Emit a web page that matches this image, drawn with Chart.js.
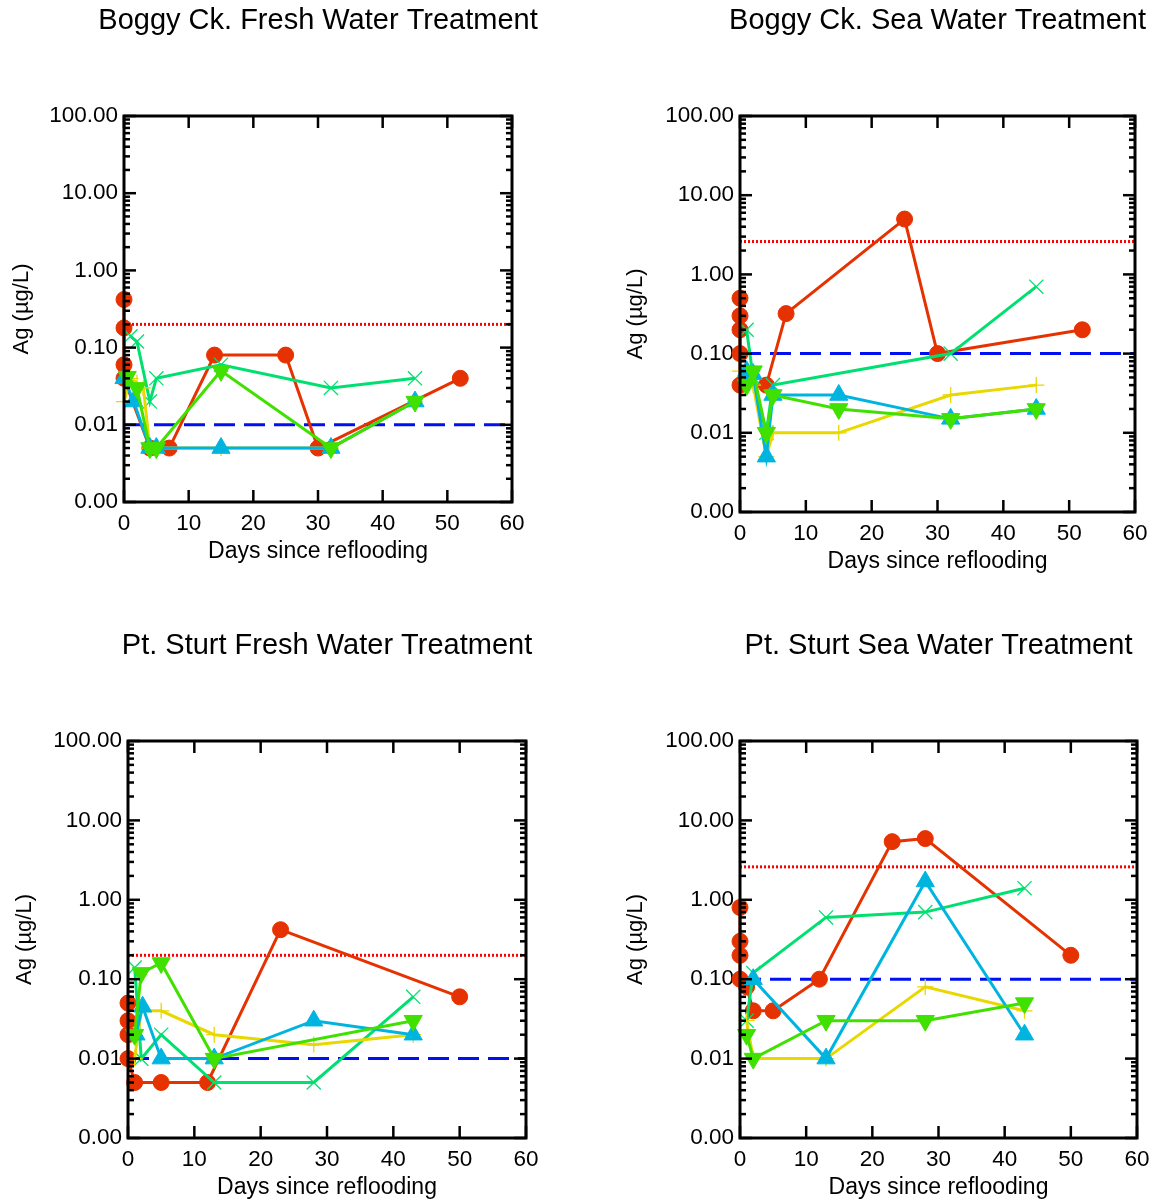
<!DOCTYPE html>
<html>
<head>
<meta charset="utf-8">
<script src="https://cdn.jsdelivr.net/npm/chart.js@4.4.1/dist/chart.umd.min.js"></script>
<style>
    html, body { margin: 0; padding: 0; background: #fff; overflow: hidden; }
    #page { position: relative; width: 1160px; height: 1200px; overflow: hidden; }
    canvas { position: absolute; }
</style>
</head>
<body>
<div id="page">
    <canvas id="bc-fresh"></canvas>
    <canvas id="bc-sea"></canvas>
    <canvas id="ps-fresh"></canvas>
    <canvas id="ps-sea"></canvas>
</div>
<script>
// Axis ticks
const yTickValues = [0.001, 0.01, 0.1, 1, 10, 100]
const xTickValues = [0, 10, 20, 30, 40, 50, 60]

// Boggy Ck. - fresh water
const bcFreshRedDays = [0, 0, 0, 0, 4, 7, 14, 25, 30, 52]
const bcFreshRedAg = [0.42, 0.18, 0.06, 0.04, 0.005, 0.005, 0.08, 0.08, 0.005, 0.04]
const bcFreshCrossDays = [1, 2, 4, 5, 15, 32, 45]
const bcFreshCrossAg = [0.14, 0.12, 0.02, 0.04, 0.06, 0.03, 0.04]
const bcFreshPlusDays = [0, 1, 2, 3, 4, 5, 15, 32, 45]
const bcFreshPlusAg = [0.02, 0.04, 0.035, 0.03, 0.005, 0.005, 0.005, 0.005, 0.02]
const bcFreshUpDays = [0, 1.5, 4, 5, 15, 32, 45]
const bcFreshUpAg = [0.04, 0.02, 0.005, 0.005, 0.005, 0.005, 0.02]
const bcFreshDownDays = [0.5, 2, 4, 5, 15, 32, 45]
const bcFreshDownAg = [0.042, 0.03, 0.005, 0.005, 0.05, 0.005, 0.02]
const bcFreshLimits = [0.2, 0.01]

// Boggy Ck. - sea water
const bcSeaRedDays = [0, 0, 0, 0, 0, 4, 7, 25, 30, 52]
const bcSeaRedAg = [0.5, 0.3, 0.2, 0.1, 0.04, 0.04, 0.32, 5, 0.1, 0.2]
const bcSeaCrossDays = [1, 2, 4, 5, 32, 45]
const bcSeaCrossAg = [0.2, 0.05, 0.01, 0.04, 0.1, 0.7]
const bcSeaPlusDays = [0, 1, 2, 4, 5, 15, 32, 45]
const bcSeaPlusAg = [0.06, 0.04, 0.04, 0.005, 0.01, 0.01, 0.03, 0.04]
const bcSeaUpDays = [1, 2, 4, 5, 15, 32, 45]
const bcSeaUpAg = [0.06, 0.055, 0.005, 0.03, 0.03, 0.015, 0.02]
const bcSeaDownDays = [1, 2, 4, 5, 15, 32, 45]
const bcSeaDownAg = [0.04, 0.06, 0.01, 0.03, 0.02, 0.015, 0.02]
const bcSeaLimits = [2.6, 0.1]

// Pt. Sturt - fresh water
const psFreshRedDays = [0, 0, 0, 0, 1, 5, 12, 23, 50]
const psFreshRedAg = [0.05, 0.03, 0.02, 0.01, 0.005, 0.005, 0.005, 0.42, 0.06]
const psFreshCrossDays = [1, 2, 5, 13, 28, 43]
const psFreshCrossAg = [0.14, 0.01, 0.02, 0.005, 0.005, 0.06]
const psFreshPlusDays = [1, 2, 5, 13, 28, 43]
const psFreshPlusAg = [0.01, 0.04, 0.04, 0.02, 0.015, 0.02]
const psFreshUpDays = [1.2, 2.2, 5, 13, 28, 43]
const psFreshUpAg = [0.02, 0.045, 0.01, 0.01, 0.03, 0.02]
const psFreshDownDays = [1, 2, 5, 13, 43]
const psFreshDownAg = [0.02, 0.12, 0.16, 0.01, 0.03]
const psFreshLimits = [0.2, 0.01]

// Pt. Sturt - sea water
const psSeaRedDays = [0, 0, 0, 0, 1, 2, 5, 12, 23, 28, 50]
const psSeaRedAg = [0.8, 0.3, 0.2, 0.1, 0.08, 0.04, 0.04, 0.1, 5.4, 5.9, 0.2]
const psSeaCrossDays = [1, 2, 13, 28, 43]
const psSeaCrossAg = [0.03, 0.12, 0.6, 0.7, 1.4]
const psSeaPlusDays = [1, 2, 13, 28, 43]
const psSeaPlusAg = [0.03, 0.01, 0.01, 0.08, 0.04]
const psSeaUpDays = [2, 13, 28, 43]
const psSeaUpAg = [0.1, 0.01, 1.7, 0.02]
const psSeaDownDays = [1, 2, 13, 28, 43]
const psSeaDownAg = [0.02, 0.01, 0.03, 0.03, 0.05]
const psSeaLimits = [2.6, 0.1]

const FONT = "'Liberation Sans', Arial, Helvetica, sans-serif"
const RED = '#e63200'
const SPRING = '#00e070'
const YELLOW = '#e8d800'
const CYAN = '#00b4e0'
const GREEN = '#40e000'

const zip = (days, ag) => days.map((d, i) => ({ x: d, y: ag[i] }))

// box with inward ticks on all four sides
const framePlugin = {
    id: 'frame',
    afterDatasetsDraw(chart) {
        const { ctx, chartArea: a, scales: { x, y } } = chart
        const tick = (x1, y1, x2, y2) => {
            ctx.beginPath()
            ctx.moveTo(x1, y1)
            ctx.lineTo(x2, y2)
            ctx.stroke()
        }

        ctx.save()
        ctx.strokeStyle = '#000'
        ctx.lineWidth = 2.5

        xTickValues.forEach(d => {
            const px = x.getPixelForValue(d)
            tick(px, a.bottom, px, a.bottom - 12)
            tick(px, a.top, px, a.top + 12)
        })

        yTickValues.forEach((v, i) => {
            const py = y.getPixelForValue(v)
            tick(a.left, py, a.left + 12, py)
            tick(a.right, py, a.right - 12, py)
            if (i === yTickValues.length - 1) return
            for (let m = 2; m < 10; m++) {
                const pm = y.getPixelForValue(v * m)
                tick(a.left, pm, a.left + 6, pm)
                tick(a.right, pm, a.right - 6, pm)
            }
        })

        ctx.lineWidth = 3
        ctx.strokeRect(a.left, a.top, a.right - a.left, a.bottom - a.top)
        ctx.restore()
    }
}

function series(color, style, points, extra) {
    return Object.assign({
        data: points,
        borderColor: color,
        backgroundColor: color,
        borderWidth: 3,
        pointStyle: style,
        pointRadius: 8,
        pointBackgroundColor: color,
        pointBorderColor: color,
        pointBorderWidth: 1,
        clip: false
    }, extra || {})
}

function limitLine(value, color, dash, width) {
    return {
        data: [{ x: 0, y: value }, { x: 60, y: value }],
        borderColor: color,
        borderWidth: width,
        borderDash: dash,
        pointRadius: 0,
        clip: false
    }
}

function makePanel(id, title, box, sets, limits) {
    const canvas = document.getElementById(id)
    // canvas is symmetric around the plot so the title centres over it
    const yAxisWidth = box.plot.l - box.left
    const width = box.plot.r - box.left + yAxisWidth
    const height = box.plot.b - box.top + 70
    canvas.width = width
    canvas.height = height
    canvas.style.left = box.left + 'px'
    canvas.style.top = box.top + 'px'

    const titleSize = 29
    const titleLine = titleSize * 1.2
    const titlePadTop = box.titleY - box.top - titleLine / 2
    const titlePadBottom = box.plot.t - box.top - titlePadTop - titleLine
    const axisLine = 23 * 1.2

    // datasets drawn first in the list end up on top
    const datasets = [
        series(GREEN, 'triangle', sets.down, { pointRadius: 10.5, pointRotation: 180 }),
        series(CYAN, 'triangle', sets.up, { pointRadius: 10.5 }),
        series(YELLOW, 'cross', sets.plus, { pointRadius: 8, pointBorderWidth: 1.3 }),
        series(SPRING, 'crossRot', sets.cross, { pointRadius: 10, pointBorderWidth: 1.3 }),
        series(RED, 'circle', sets.red),
        limitLine(limits[0], '#ff0000', [2, 2], 3),
        limitLine(limits[1], '#0010f0', [21, 9], 3)
    ]

    return new Chart(canvas, {
        type: 'line',
        data: { datasets },
        options: {
            responsive: false,
            animation: false,
            layout: { padding: 0 },
            plugins: {
                legend: { display: false },
                tooltip: { enabled: false },
                title: {
                    display: true,
                    text: title,
                    color: '#000',
                    font: { family: FONT, size: titleSize, weight: 'normal', lineHeight: 1.2 },
                    padding: { top: titlePadTop, bottom: titlePadBottom }
                }
            },
            scales: {
                x: {
                    type: 'linear',
                    min: 0,
                    max: 60,
                    afterBuildTicks: scale => { scale.ticks = xTickValues.map(v => ({ value: v })) },
                    afterFit: scale => { scale.height = 70 },
                    grid: { display: false, drawTicks: false },
                    border: { display: false },
                    ticks: {
                        color: '#000',
                        padding: 8,
                        maxRotation: 0,
                        autoSkip: false,
                        font: { family: FONT, size: 22.5 }
                    },
                    title: {
                        display: true,
                        text: 'Days since reflooding',
                        color: '#000',
                        font: { family: FONT, size: 23, lineHeight: 1.2 },
                        padding: { top: 0, bottom: 20 - axisLine / 2 }
                    }
                },
                y: {
                    type: 'logarithmic',
                    min: 0.001,
                    max: 100,
                    afterBuildTicks: scale => { scale.ticks = yTickValues.map(v => ({ value: v })) },
                    afterFit: scale => { scale.width = yAxisWidth },
                    grid: { display: false, drawTicks: false },
                    border: { display: false },
                    ticks: {
                        color: '#000',
                        padding: 6,
                        autoSkip: false,
                        font: { family: FONT, size: 22.5 },
                        callback: v => Number(v).toFixed(2)
                    },
                    title: {
                        display: true,
                        text: 'Ag (µg/L)',
                        color: '#000',
                        font: { family: FONT, size: 22, lineHeight: 1.2 },
                        padding: { top: box.yTitleX - box.left - 22 * 1.2 / 2, bottom: 0 }
                    }
                },
                // blank spacer on the right, same width as the left axis
                yRight: {
                    type: 'logarithmic',
                    position: 'right',
                    min: 0.001,
                    max: 100,
                    afterFit: scale => { scale.width = yAxisWidth },
                    grid: { display: false, drawTicks: false },
                    border: { display: false },
                    ticks: { display: false }
                }
            }
        },
        plugins: [framePlugin]
    })
}

makePanel('bc-fresh', 'Boggy Ck. Fresh Water Treatment',
    { left: 0, top: 0, titleY: 21, yTitleX: 22, plot: { l: 124, r: 512, t: 116, b: 502 } },
    {
        red: zip(bcFreshRedDays, bcFreshRedAg),
        cross: zip(bcFreshCrossDays, bcFreshCrossAg),
        plus: zip(bcFreshPlusDays, bcFreshPlusAg),
        up: zip(bcFreshUpDays, bcFreshUpAg),
        down: zip(bcFreshDownDays, bcFreshDownAg)
    }, bcFreshLimits)

makePanel('bc-sea', 'Boggy Ck. Sea Water Treatment',
    { left: 580, top: 0, titleY: 21, yTitleX: 636, plot: { l: 740, r: 1135, t: 116, b: 512 } },
    {
        red: zip(bcSeaRedDays, bcSeaRedAg),
        cross: zip(bcSeaCrossDays, bcSeaCrossAg),
        plus: zip(bcSeaPlusDays, bcSeaPlusAg),
        up: zip(bcSeaUpDays, bcSeaUpAg),
        down: zip(bcSeaDownDays, bcSeaDownAg)
    }, bcSeaLimits)

makePanel('ps-fresh', 'Pt. Sturt Fresh Water Treatment',
    { left: 0, top: 610, titleY: 646, yTitleX: 25, plot: { l: 128, r: 526, t: 741, b: 1138 } },
    {
        red: zip(psFreshRedDays, psFreshRedAg),
        cross: zip(psFreshCrossDays, psFreshCrossAg),
        plus: zip(psFreshPlusDays, psFreshPlusAg),
        up: zip(psFreshUpDays, psFreshUpAg),
        down: zip(psFreshDownDays, psFreshDownAg)
    }, psFreshLimits)

makePanel('ps-sea', 'Pt. Sturt Sea Water Treatment',
    { left: 580, top: 610, titleY: 646, yTitleX: 636, plot: { l: 740, r: 1137, t: 741, b: 1138 } },
    {
        red: zip(psSeaRedDays, psSeaRedAg),
        cross: zip(psSeaCrossDays, psSeaCrossAg),
        plus: zip(psSeaPlusDays, psSeaPlusAg),
        up: zip(psSeaUpDays, psSeaUpAg),
        down: zip(psSeaDownDays, psSeaDownAg)
    }, psSeaLimits)
</script>
</body>
</html>
